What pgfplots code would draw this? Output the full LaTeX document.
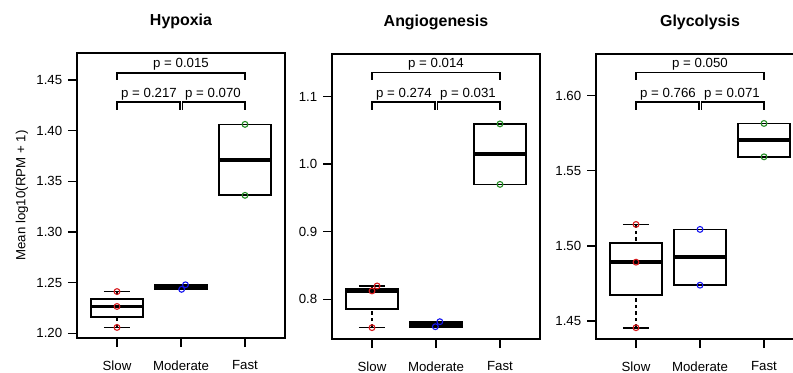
\documentclass[border=0pt]{standalone}
\usepackage{fontspec}
\setmainfont{Liberation Sans}
\usepackage{pgfplots}
\pgfplotsset{compat=1.18}
\usepgfplotslibrary{statistics}
\definecolor{ptred}{RGB}{215,25,28}
\definecolor{ptblue}{RGB}{20,20,240}
\definecolor{ptgreen}{RGB}{34,139,34}
\newcommand{\lbl}{\fontsize{13.3}{16}\selectfont}
\pgfplotsset{
  panel/.style={
    scale only axis, width=208bp, height=285bp,
    anchor=south west,
    xmin=0.375, xmax=3.625,
    xtick={1,2,3}, xticklabels={Slow,Moderate,Fast},
    xtick pos=left, ytick pos=left,
    tick align=outside, major tick length=9bp,
    axis line style={line width=1.4bp},
    every tick/.style={black, line width=1.4bp},
    tick label style={font=\lbl},
    xticklabel style={yshift=-10bp},
    yticklabel style={xshift=-2.3bp},
    /pgf/number format/assume math mode=true,
    /pgf/number format/fixed, /pgf/number format/fixed zerofill,
    title style={font=\bfseries\fontsize{16}{19}\selectfont, anchor=base, at={(axis description cs:0.5,1)}, yshift=22bp},
    every axis y label/.style={at={(axis description cs:-0.2644,0.5)}, rotate=90, anchor=center, font=\lbl},
    boxplot/draw direction=y,
    boxplot/box extend=0.82,
    boxplot/whisker extend=0.41,
    boxplot/every median/.style={line width=3.8bp},
    boxplot/draw/lower whisker/.code={%
      \draw[dash pattern=on 3.5bp off 3bp] (boxplot box cs:\pgfplotsboxplotvalue{lower whisker},0.5) -- (boxplot box cs:\pgfplotsboxplotvalue{lower quartile},0.5);
      \draw[solid] (boxplot whisker cs:\pgfplotsboxplotvalue{lower whisker},0) -- (boxplot whisker cs:\pgfplotsboxplotvalue{lower whisker},1);
    },
    boxplot/draw/upper whisker/.code={%
      \draw[dash pattern=on 3.5bp off 3bp] (boxplot box cs:\pgfplotsboxplotvalue{upper whisker},0.5) -- (boxplot box cs:\pgfplotsboxplotvalue{upper quartile},0.5);
      \draw[solid] (boxplot whisker cs:\pgfplotsboxplotvalue{upper whisker},0) -- (boxplot whisker cs:\pgfplotsboxplotvalue{upper whisker},1);
    },
  },
  bx/.style={draw=black, fill=white, line width=1.7bp, solid},
  pts/.style={only marks, mark=o, mark size=2.9bp, line width=1.1bp, mark options={solid, draw=#1}},
  brk/.style={black, line width=1.5bp, no marks},
}
\begin{document}
\begin{tikzpicture}
\useasboundingbox (0,0) rectangle (793bp,373bp);
\clip (0,0) rectangle (793bp,373bp);
% ---------------- Hypoxia ----------------
\begin{axis}[panel, at={(77bp,35bp)},
  ymin=1.1955, ymax=1.4766,
  ytick={1.2,1.25,1.3,1.35,1.4,1.45},
  /pgf/number format/precision=2,
  title={Hypoxia}, ylabel={Mean log10(RPM + 1)}]
\addplot[bx, boxplot prepared={draw position=1, median=1.2266, lower quartile=1.21625, upper quartile=1.23395, lower whisker=1.2059, upper whisker=1.2413}] coordinates {};
\addplot[bx, boxplot prepared={draw position=2, median=1.24575, lower quartile=1.2435, upper quartile=1.248, lower whisker=1.2435, upper whisker=1.248}] coordinates {};
\addplot[bx, boxplot prepared={draw position=3, median=1.3712, lower quartile=1.3362, upper quartile=1.4062, lower whisker=1.3362, upper whisker=1.4062}] coordinates {};
\addplot[pts=ptred] coordinates {(1,1.2413) (1,1.2266) (1,1.2059)};
\addplot[pts=ptblue] coordinates {(2.01,1.2435) (2.07,1.248)};
\addplot[pts=ptgreen] coordinates {(3,1.4062) (3,1.3362)};
\addplot[brk] coordinates {(1,1.45) (1,1.4571) (3,1.4571) (3,1.45)};
\addplot[brk] coordinates {(1,1.4204) (1,1.4281) (1.985,1.4281) (1.985,1.4204)};
\addplot[brk] coordinates {(2.02,1.4204) (2.02,1.4281) (3,1.4281) (3,1.4204)};
\node[font=\lbl, anchor=base, yshift=4.8bp] at (axis cs:2,1.4571) {p = 0.015};
\node[font=\lbl, anchor=base, yshift=4.6bp] at (axis cs:1.5,1.4281) {p = 0.217};
\node[font=\lbl, anchor=base, yshift=4.6bp] at (axis cs:2.5,1.4281) {p = 0.070};
\end{axis}
% ---------------- Angiogenesis ----------------
\begin{axis}[panel, at={(332bp,34bp)},
  ymin=0.7412, ymax=1.163,
  ytick={0.8,0.9,1.0,1.1},
  /pgf/number format/precision=1,
  title={Angiogenesis}]
\addplot[bx, boxplot prepared={draw position=1, median=0.8123, lower quartile=0.7852, upper quartile=0.816, lower whisker=0.758, upper whisker=0.8197}] coordinates {};
\addplot[bx, boxplot prepared={draw position=2, median=0.7631, lower quartile=0.7594, upper quartile=0.7668, lower whisker=0.7594, upper whisker=0.7668}] coordinates {};
\addplot[bx, boxplot prepared={draw position=3, median=1.0148, lower quartile=0.9700, upper quartile=1.0596, lower whisker=0.9700, upper whisker=1.0596}] coordinates {};
\addplot[pts=ptred] coordinates {(1.08,0.8197) (1,0.8123) (1,0.758)};
\addplot[pts=ptblue] coordinates {(1.99,0.7594) (2.06,0.7668)};
\addplot[pts=ptgreen] coordinates {(3,1.0596) (3,0.9700)};
\addplot[brk] coordinates {(1,1.1247) (1,1.1354) (3,1.1354) (3,1.1247)};
\addplot[brk] coordinates {(1,1.0803) (1,1.0919) (1.985,1.0919) (1.985,1.0803)};
\addplot[brk] coordinates {(2.02,1.0803) (2.02,1.0919) (3,1.0919) (3,1.0803)};
\node[font=\lbl, anchor=base, yshift=4.8bp] at (axis cs:2,1.1354) {p = 0.014};
\node[font=\lbl, anchor=base, yshift=4.6bp] at (axis cs:1.5,1.0919) {p = 0.274};
\node[font=\lbl, anchor=base, yshift=4.6bp] at (axis cs:2.5,1.0919) {p = 0.031};
\end{axis}
% ---------------- Glycolysis ----------------
\begin{axis}[panel, at={(596bp,34bp)},
  ymin=1.438, ymax=1.6276,
  ytick={1.45,1.5,1.55,1.6},
  /pgf/number format/precision=2,
  title={Glycolysis}]
\addplot[bx, boxplot prepared={draw position=1, median=1.4891, lower quartile=1.4673, upper quartile=1.50165, lower whisker=1.4455, upper whisker=1.5142}] coordinates {};
\addplot[bx, boxplot prepared={draw position=2, median=1.49235, lower quartile=1.4738, upper quartile=1.5109, lower whisker=1.4738, upper whisker=1.5109}] coordinates {};
\addplot[bx, boxplot prepared={draw position=3, median=1.5703, lower quartile=1.5592, upper quartile=1.5814, lower whisker=1.5592, upper whisker=1.5814}] coordinates {};
\addplot[pts=ptred] coordinates {(1,1.5142) (1,1.4891) (1,1.4455)};
\addplot[pts=ptblue] coordinates {(2,1.5109) (2,1.4738)};
\addplot[pts=ptgreen] coordinates {(3,1.5814) (3,1.5592)};
\addplot[brk] coordinates {(1,1.6105) (1,1.6152) (3,1.6152) (3,1.6105)};
\addplot[brk] coordinates {(1,1.5905) (1,1.5957) (1.985,1.5957) (1.985,1.5905)};
\addplot[brk] coordinates {(2.02,1.5905) (2.02,1.5957) (3,1.5957) (3,1.5905)};
\node[font=\lbl, anchor=base, yshift=4.8bp] at (axis cs:2,1.6152) {p = 0.050};
\node[font=\lbl, anchor=base, yshift=4.6bp] at (axis cs:1.5,1.5957) {p = 0.766};
\node[font=\lbl, anchor=base, yshift=4.6bp] at (axis cs:2.5,1.5957) {p = 0.071};
\end{axis}
\end{tikzpicture}
\end{document}
